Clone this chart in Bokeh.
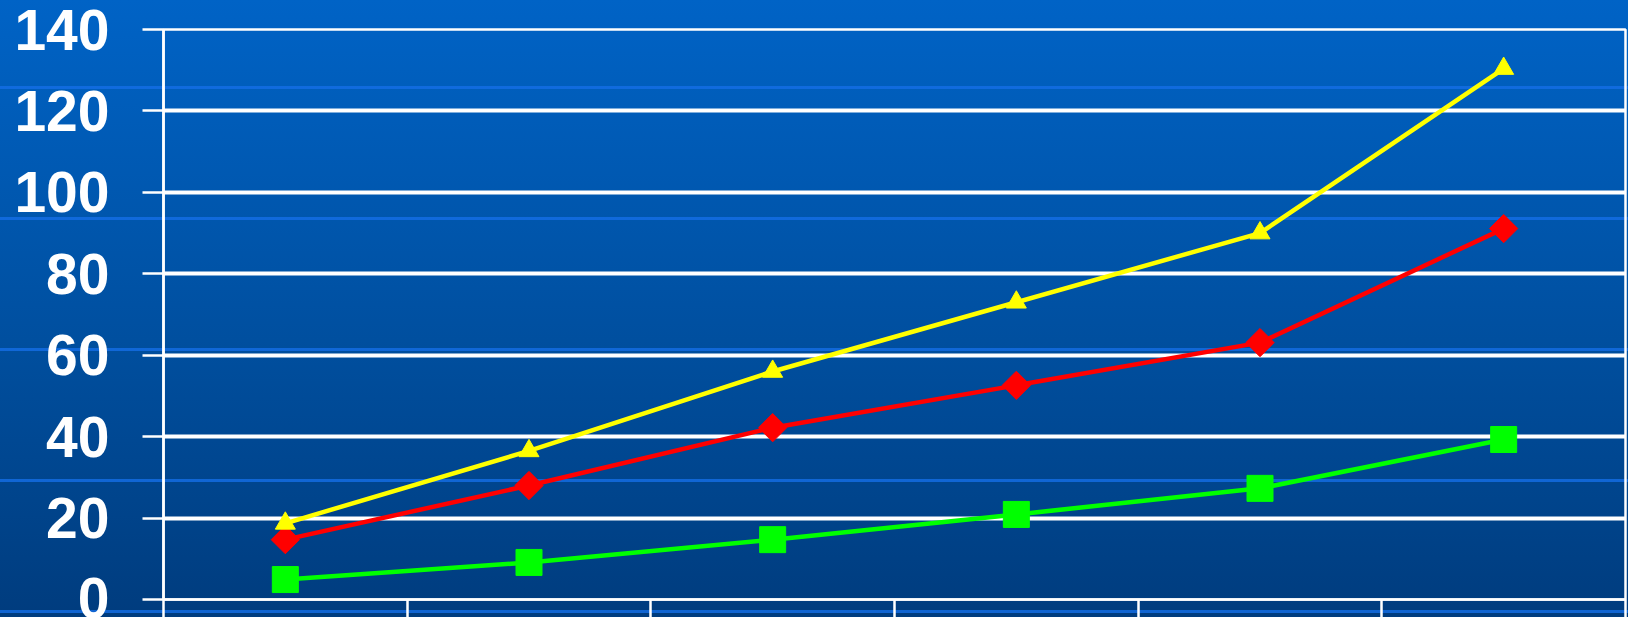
from math import pi
from bokeh.plotting import figure
from bokeh.models import Range1d, FixedTicker
from bokeh.embed import file_html
from bokeh.resources import INLINE

# ---- data ----
categories = ["1", "2", "3", "4", "5", "6"]
yellow_vals = [18.7, 36.5, 56.0, 73.0, 90.0, 130.4]
red_vals = [14.7, 28.0, 42.2, 52.6, 63.1, 91.1]
green_vals = [4.9, 9.1, 14.7, 20.9, 27.3, 39.3]
y_ticks = [0, 20, 40, 60, 80, 100, 120, 140]

n = len(categories)
x = [i + 0.5 for i in range(n)]
x_bounds = list(range(n + 1))

p = figure(width=1628, height=617, output_backend="svg", toolbar_location=None,
           x_range=Range1d(0, n), y_range=Range1d(0, 140),
           min_border_left=163, min_border_right=3, min_border_top=29, min_border_bottom=18)

p.background_fill_alpha = 0
p.border_fill_alpha = 0
p.styles = {
    "background": (
        "repeating-linear-gradient(to bottom, rgba(0,0,0,0) 0px, rgba(0,0,0,0) 86px, "
        "rgba(20,110,230,0.8) 86px, rgba(20,110,230,0.8) 89px, rgba(0,0,0,0) 89px, rgba(0,0,0,0) 131px), "
        "linear-gradient(to bottom, #0063C6 0%, #004F9F 55%, #003C7E 100%)"
    )
}

p.outline_line_color = "white"
p.outline_line_width = 2.5
p.outline_line_alpha = 1

p.xgrid.visible = False
p.ygrid.ticker = FixedTicker(ticks=y_ticks)
p.ygrid.grid_line_color = "white"
p.ygrid.grid_line_width = 4
p.ygrid.grid_line_alpha = 1

p.yaxis.ticker = FixedTicker(ticks=y_ticks)
p.yaxis.axis_line_color = "white"
p.yaxis.axis_line_width = 2.5
p.yaxis.major_tick_line_color = "white"
p.yaxis.major_tick_line_width = 2.5
p.yaxis.major_tick_out = 21
p.yaxis.major_tick_in = 0
p.yaxis.minor_tick_line_color = None
p.yaxis.major_label_standoff = 33
p.yaxis.major_label_text_color = "white"
p.yaxis.major_label_text_font = "Liberation Sans"
p.yaxis.major_label_text_font_style = "bold"
p.yaxis.major_label_text_font_size = "57px"

p.xaxis.ticker = FixedTicker(ticks=x_bounds)
p.xaxis.axis_line_color = "white"
p.xaxis.axis_line_width = 2.5
p.xaxis.major_tick_line_color = "white"
p.xaxis.major_tick_line_width = 2.5
p.xaxis.major_tick_out = 18
p.xaxis.major_tick_in = 0
p.xaxis.minor_tick_line_color = None
p.xaxis.major_label_text_font_size = "0px"
p.xaxis.major_label_standoff = 0

# green series
p.line(x, green_vals, line_color="#00FF00", line_width=4.5)
p.scatter(x, green_vals, marker="square", size=26, fill_color="#00FF00", line_color="#00FF00")

# red series
p.line(x, red_vals, line_color="#FF0000", line_width=4.5)
p.scatter(x, red_vals, marker="square", angle=pi / 4, size=20, fill_color="#FF0000", line_color="#FF0000")

# yellow series
p.line(x, yellow_vals, line_color="#FFFF00", line_width=4.5)
p.scatter(x, yellow_vals, marker="triangle", size=20, fill_color="#FFFF00", line_color="#FFFF00")

open("out.html", "w").write(file_html(p, INLINE))
